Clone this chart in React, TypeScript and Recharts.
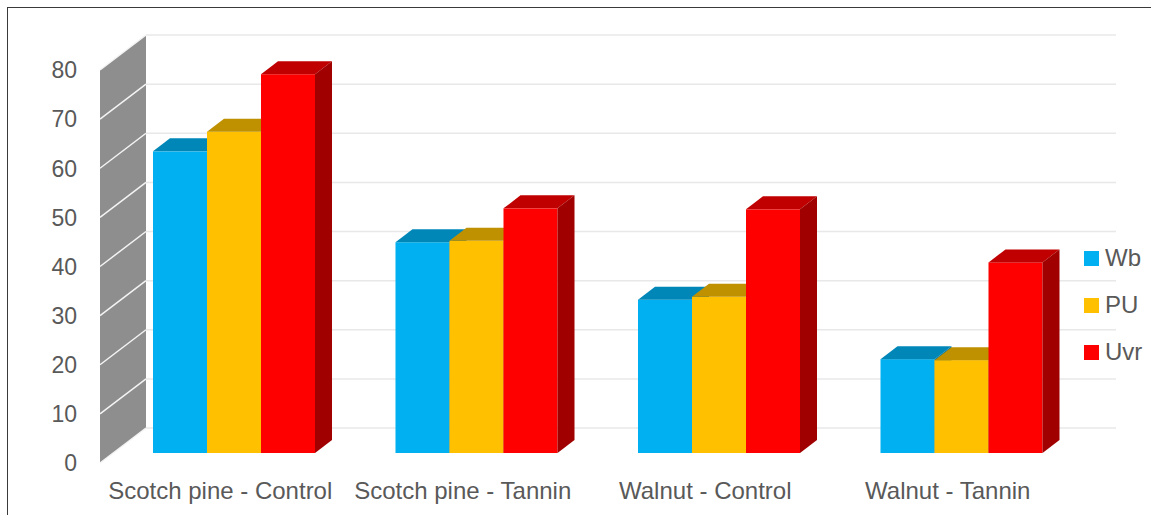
import React from 'react';
import {
  BarChart,
  Bar,
  XAxis,
  YAxis,
  CartesianGrid,
  Legend,
  ReferenceArea,
} from 'recharts';

// Wood samples and their measured values per coating system
const categories = [
  'Scotch pine - Control',
  'Scotch pine - Tannin',
  'Walnut - Control',
  'Walnut - Tannin',
];
const wbValues = [61.4, 42.9, 31.2, 19.1];
const puValues = [65.4, 43.2, 31.8, 18.9];
const uvrValues = [77.1, 49.8, 49.6, 38.8];
const seriesOrder = ['Wb', 'PU', 'Uvr'];
const yTicks = [0, 10, 20, 30, 40, 50, 60, 70, 80];

const data = categories.map((name, i) => ({
  name,
  Wb: wbValues[i],
  PU: puValues[i],
  Uvr: uvrValues[i],
}));

const FONT = '"Liberation Sans", Arial, sans-serif';
const TEXT = '#595959';

// Oblique projection offsets (pixels): bar depth, back wall and front edge
const BAR_DX = 17;
const BAR_DY = 13;
const BACK_DX = 33;
const BACK_DY = 25;
const FRONT_DX = 13;
const FRONT_DY = 10;

type Shade = { front: string; top: string; side: string };

const makePrism = (shade: Shade) => (props: any) => {
  const { x, y, width, height } = props;
  if (width == null || height == null) return <g />;
  const w = width;
  const h = height;
  return (
    <g>
      <rect x={x} y={y} width={w} height={h} fill={shade.front} />
      <polygon
        points={`${x},${y} ${x + BAR_DX},${y - BAR_DY} ${x + w + BAR_DX},${y - BAR_DY} ${x + w},${y}`}
        fill={shade.top}
      />
      <polygon
        points={`${x + w},${y} ${x + w + BAR_DX},${y - BAR_DY} ${x + w + BAR_DX},${y + h - BAR_DY} ${x + w},${y + h}`}
        fill={shade.side}
      />
    </g>
  );
};

const wbShade: Shade = { front: '#00B0F0', top: '#0087B8', side: '#0076A3' };
const puShade: Shade = { front: '#FFC000', top: '#BF9000', side: '#A67D00' };
const uvrShade: Shade = { front: '#FF0000', top: '#C00000', side: '#A00000' };

// Side wall drawn along the value axis
const SideWall = (props: any) => {
  const { x, y, height } = props;
  const pts = [
    `${x - FRONT_DX},${y + height + FRONT_DY}`,
    `${x - FRONT_DX},${y + FRONT_DY}`,
    `${x + BACK_DX},${y - BACK_DY}`,
    `${x + BACK_DX},${y + height - BACK_DY}`,
  ].join(' ');
  return <polygon points={pts} fill="#8E8E8E" />;
};

// Back wall gridlines
const BackGridLine = (props: any) => {
  const { x1, x2, y1 } = props;
  return (
    <line
      x1={x1 + BACK_DX}
      x2={x2 + BACK_DX}
      y1={y1 - BACK_DY}
      y2={y1 - BACK_DY}
      stroke="#E8E8E8"
      strokeWidth={1.5}
    />
  );
};

const YTick = (props: any) => {
  const { x, y, payload } = props;
  return (
    <g>
      <line
        x1={x - FRONT_DX}
        y1={y + FRONT_DY}
        x2={x + BACK_DX}
        y2={y - BACK_DY}
        stroke="#F4F4F4"
        strokeWidth={1.5}
      />
      <text
        x={x - FRONT_DX - 23}
        y={y + FRONT_DY}
        dy="0.36em"
        textAnchor="end"
        fill={TEXT}
        fontSize={23}
        fontFamily={FONT}
      >
        {payload.value}
      </text>
    </g>
  );
};

const XTick = (props: any) => {
  const { x, y, payload } = props;
  return (
    <text
      x={x - FRONT_DX - 1}
      y={y + 46}
      textAnchor="middle"
      fill={TEXT}
      fontSize={24}
      fontFamily={FONT}
    >
      {payload.value}
    </text>
  );
};

const LegendBox = (props: any) => {
  const payload = [...(props.payload || [])].sort(
    (a: any, b: any) => seriesOrder.indexOf(a.value) - seriesOrder.indexOf(b.value)
  );
  return (
    <div style={{ fontFamily: FONT }}>
      {payload.map((entry: any) => (
        <div
          key={entry.value}
          style={{ display: 'flex', alignItems: 'center', height: 47 }}
        >
          <span
            style={{
              display: 'inline-block',
              width: 15,
              height: 15,
              background: entry.color,
              marginRight: 6,
            }}
          />
          <span style={{ fontSize: 24, color: TEXT, lineHeight: '24px' }}>
            {entry.value}
          </span>
        </div>
      ))}
    </div>
  );
};

export default function App() {
  return (
    <div
      style={{
        position: 'absolute',
        left: 0,
        top: 0,
        width: 1151,
        height: 515,
        background: '#FFFFFF',
        overflow: 'hidden',
      }}
    >
      <BarChart
        width={1151}
        height={515}
        data={data}
        margin={{ top: 60, right: 68, bottom: 0, left: 0 }}
        barGap={0}
        barSize={54}
      >
        <CartesianGrid vertical={false} horizontal={BackGridLine} />
        <ReferenceArea y1={0} y2={80} shape={SideWall} ifOverflow="visible" />
        <XAxis
          dataKey="name"
          height={62}
          axisLine={false}
          tickLine={false}
          tickSize={0}
          tickMargin={0}
          interval={0}
          tick={XTick}
        />
        <YAxis
          width={113}
          domain={[0, 80]}
          ticks={yTicks}
          axisLine={false}
          tickLine={false}
          tickSize={0}
          tickMargin={0}
          tick={YTick}
        />
        <Legend
          layout="vertical"
          align="center"
          verticalAlign="middle"
          content={LegendBox}
          wrapperStyle={{ left: 1084, top: 234.5, width: 70 }}
        />
        <Bar dataKey="Wb" fill={wbShade.front} shape={makePrism(wbShade)} isAnimationActive={false} />
        <Bar dataKey="PU" fill={puShade.front} shape={makePrism(puShade)} isAnimationActive={false} />
        <Bar dataKey="Uvr" fill={uvrShade.front} shape={makePrism(uvrShade)} isAnimationActive={false} />
      </BarChart>
      <div
        style={{
          position: 'absolute',
          left: 7,
          top: 7,
          width: 1144,
          height: 508,
          borderTop: '1px solid #3A3A3A',
          borderLeft: '1px solid #3A3A3A',
          boxSizing: 'border-box',
          pointerEvents: 'none',
        }}
      />
    </div>
  );
}
